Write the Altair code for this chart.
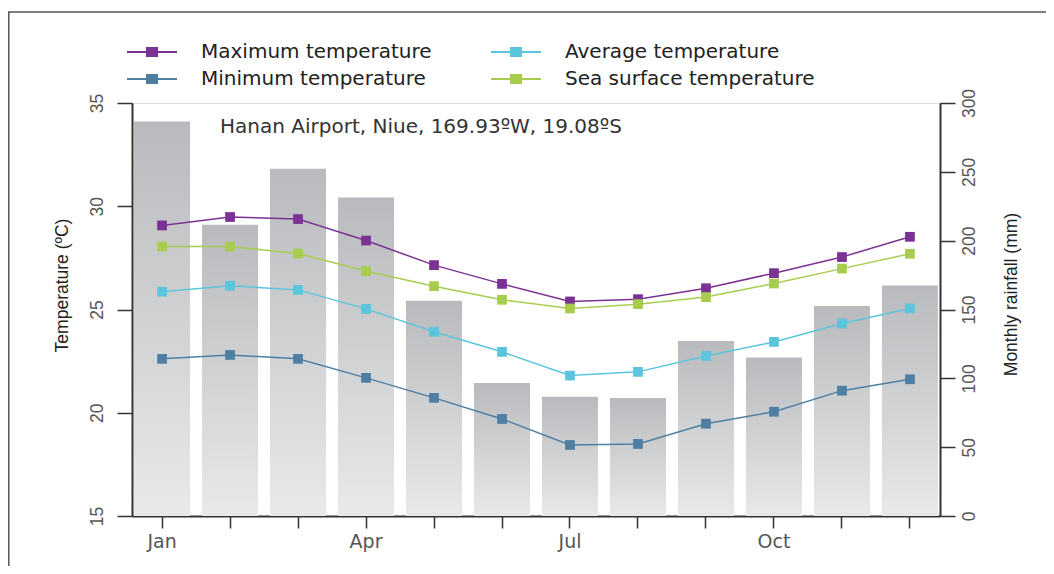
import altair as alt
import pandas as pd

months = ["Jan", "Feb", "Mar", "Apr", "May", "Jun", "Jul", "Aug", "Sep", "Oct", "Nov", "Dec"]
rainfall = [286.6, 211.5, 252.2, 231.4, 156.3, 96.7, 86.7, 85.8, 127.2, 115.1, 152.6, 167.4]
t_max = [29.07, 29.48, 29.38, 28.34, 27.15, 26.24, 25.39, 25.50, 26.03, 26.76, 27.54, 28.52]
t_avg = [25.86, 26.15, 25.95, 25.03, 23.92, 22.95, 21.80, 21.98, 22.75, 23.43, 24.32, 25.05]
t_min = [22.61, 22.80, 22.61, 21.69, 20.72, 19.70, 18.44, 18.49, 19.47, 20.05, 21.07, 21.62]
t_sea = [28.05, 28.05, 27.71, 26.86, 26.13, 25.47, 25.05, 25.26, 25.60, 26.26, 26.98, 27.70]
# legend order (filled column by column): Max, Min | Avg, Sea
series_names = ["Maximum temperature", "Minimum temperature", "Average temperature", "Sea surface temperature"]
series_colors = ["#7b3294", "#4e7fa2", "#5bc5dd", "#a8cd4e"]
series_values = [t_max, t_min, t_avg, t_sea]
shown_months = ["Jan", "Apr", "Jul", "Oct"]
station = "Hanan Airport, Niue, 169.93ºW, 19.08ºS"

rain_df = pd.DataFrame({"month": months, "rain": rainfall})
rows = []
for name, vals in zip(series_names, series_values):
    for m, v in zip(months, vals):
        rows.append({"month": m, "series": name, "temp": v})
temp_df = pd.DataFrame(rows)
one = pd.DataFrame({"a": [0]})

SANS = "DejaVu Sans"
HELV = "Liberation Sans"

xenc = alt.X(
    "month:N", sort=months,
    scale=alt.Scale(paddingInner=0.176, paddingOuter=0.03),
    axis=alt.Axis(
        title=None, bandPosition=0.5, domainColor="#333", domainWidth=2,
        tickColor="#333", tickWidth=1.5, tickSize=12,
        labelExpr="indexof(" + str(shown_months) + ", datum.value) >= 0 ? datum.value : ''",
        labelAngle=0, labelFont=SANS, labelFontSize=19, labelColor="#555", labelPadding=4,
        grid=False,
    ),
)

bars = alt.Chart(rain_df).mark_bar(
    color=alt.Gradient(
        gradient="linear",
        stops=[alt.GradientStop(color="#b8babd", offset=0), alt.GradientStop(color="#e8e9ea", offset=1)],
        x1=0, x2=0, y1=0, y2=1,
    )
).encode(
    x=xenc,
    y=alt.Y(
        "rain:Q", scale=alt.Scale(domain=[0, 300], nice=False),
        axis=alt.Axis(
            orient="right", values=[0, 50, 100, 150, 200, 250, 300], grid=False,
            title="Monthly rainfall (mm)", titleAngle=270, titleX=71, titleY=191,
            titleAlign="center", titleBaseline="middle", titleFont=HELV, titleFontSize=17.5,
            titleFontWeight="normal", titleColor="#222",
            domainColor="#333", domainWidth=2, tickColor="#333", tickWidth=1.5, tickSize=15,
            labelAngle=270, labelAlign="center", labelBaseline="top", labelPadding=5,
            labelFont=HELV, labelFontSize=17.5, labelColor="#555",
        ),
    ),
)

legend = alt.Legend(
    orient="none", legendX=9, legendY=-62, columns=2, title=None,
    symbolType="M-2.5,0H2.5M-0.5,-0.4H0.5V0.4H-0.5Z", symbolSize=400, symbolStrokeWidth=2,
    labelFont=SANS, labelFontSize=20, labelColor="#222", labelOffset=38, labelLimit=500,
    columnPadding=55, rowPadding=6, padding=0, symbolOpacity=1,
)

color = alt.Color("series:N", scale=alt.Scale(domain=series_names, range=series_colors), legend=legend)
yt = alt.Y(
    "temp:Q", scale=alt.Scale(domain=[15, 35], nice=False, zero=False),
    axis=alt.Axis(
        orient="left", values=[15, 20, 25, 30, 35], grid=False,
        title="Temperature (ºC)", titleAngle=270, titleX=-70, titleY=182,
        titleAlign="center", titleBaseline="middle", titleFont=HELV, titleFontSize=17.5,
        titleFontWeight="normal", titleColor="#222",
        domainColor="#333", domainWidth=2, tickColor="#333", tickWidth=1.5, tickSize=15,
        labelAngle=270, labelAlign="center", labelBaseline="alphabetic", labelPadding=15,
        labelFont=HELV, labelFontSize=17.5, labelColor="#555",
    ),
)

base_t = alt.Chart(temp_df)
lines = base_t.mark_line(strokeWidth=1.5).encode(x=xenc, y=yt, color=color, detail="series:N")
points = base_t.mark_point(shape="square", filled=True, size=95, opacity=1).encode(x=xenc, y=yt, color=color)
temps = alt.layer(lines, points)

frame_left = alt.Chart(one).mark_rule(color="#555", strokeWidth=1.5).encode(
    x=alt.value(-123.2), x2=alt.value(-123.2), y=alt.value(-91), y2=alt.value(480))
frame_top = alt.Chart(one).mark_rule(color="#555", strokeWidth=1.5).encode(
    x=alt.value(-124), x2=alt.value(930), y=alt.value(-91), y2=alt.value(-91))
label = alt.Chart(one).mark_text(
    align="left", baseline="middle", font=SANS, fontSize=20, color="#333"
).encode(x=alt.value(88), y=alt.value(24), text=alt.value(station))

chart = alt.layer(bars, temps, label, frame_left, frame_top).resolve_scale(y="independent").properties(
    width=808, height=413,
    autosize=alt.AutoSizeParams(type="none"),
    padding={"left": 124, "top": 95, "right": 106, "bottom": 50},
).configure_view(stroke="#333", strokeWidth=2).configure(background="white")

chart.save("out.html", embed_options={"renderer": "svg", "actions": False})
